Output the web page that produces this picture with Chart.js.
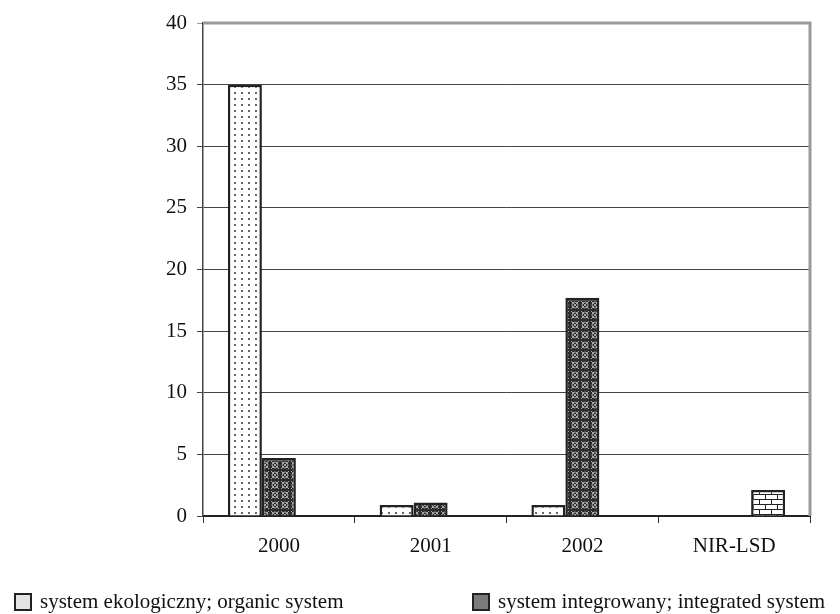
<!DOCTYPE html>
<html>
<head>
<meta charset="utf-8">
<script src="https://cdn.jsdelivr.net/npm/chart.js@4"></script>
<style>
  html, body { margin: 0; padding: 0; background: #fff; }
  #wrap { position: relative; width: 840px; height: 614px; }
  .legend { position: absolute; top: 589px; font: 21px "Liberation Serif", "Times New Roman", serif; color: #111; white-space: nowrap; }
  .legend span.box { display: inline-block; width: 14px; height: 14px; border: 2px solid #222; vertical-align: -3px; margin-right: 8px; }
</style>
</head>
<body>
<div id="wrap">
  <canvas id="chart" width="840" height="614"></canvas>
  <div class="legend" style="left:14px"><span class="box" style="background:#e4e4e4"></span>system ekologiczny; organic system</div>
  <div class="legend" style="left:472px"><span class="box" style="background:#7a7a7a"></span>system integrowany; integrated system</div>
</div>
<script>
const categories = ["2000", "2001", "2002", "NIR-LSD"];
const organic = [35, 0.9, 0.9, null];
const integrated = [4.7, 1.1, 17.7, null];
const lsd = [null, null, null, 2.1];
const seriesNames = ["system ekologiczny; organic system", "system integrowany; integrated system", "NIR-LSD"];

function makePattern(w, h, draw) {
  const c = document.createElement("canvas");
  c.width = w; c.height = h;
  const g = c.getContext("2d");
  draw(g);
  return document.getElementById("chart").getContext("2d").createPattern(c, "repeat");
}

const dotted = makePattern(7, 6, g => {
  g.fillStyle = "#fff"; g.fillRect(0, 0, 7, 6);
  g.fillStyle = "#666"; g.fillRect(3, 2, 2, 2);
});

const cross = makePattern(10, 10, g => {
  g.fillStyle = "#2b2b2b"; g.fillRect(0, 0, 10, 10);
  g.strokeStyle = "#a8a8a8"; g.lineWidth = 1;
  g.beginPath();
  g.moveTo(1, 1); g.lineTo(9, 9);
  g.moveTo(9, 1); g.lineTo(1, 9);
  g.stroke();
  g.beginPath(); g.arc(5, 5, 3, 0, Math.PI * 2); g.stroke();
});

const brick = makePattern(12, 10, g => {
  g.fillStyle = "#fff"; g.fillRect(0, 0, 12, 10);
  g.fillStyle = "#222";
  g.fillRect(0, 4, 12, 1); g.fillRect(0, 9, 12, 1);
  g.fillRect(3, 0, 1, 4); g.fillRect(9, 5, 1, 4);
});

const frame = {
  id: "frame",
  afterDraw(chart) {
    const { ctx, chartArea: a } = chart;
    ctx.save();
    ctx.strokeStyle = "#9a9a9a";
    ctx.lineWidth = 3;
    ctx.beginPath();
    ctx.moveTo(a.left, a.top);
    ctx.lineTo(a.right, a.top);
    ctx.lineTo(a.right, a.bottom);
    ctx.stroke();
    ctx.restore();
  }
};

new Chart(document.getElementById("chart"), {
  type: "bar",
  data: {
    labels: categories,
    datasets: [
      { label: seriesNames[0], data: organic, backgroundColor: dotted, borderColor: "#222", borderWidth: 2.5 },
      { label: seriesNames[1], data: integrated, backgroundColor: cross, borderColor: "#222", borderWidth: 2.5 },
      { label: seriesNames[2], data: lsd, backgroundColor: brick, borderColor: "#222", borderWidth: 2.5 }
    ]
  },
  options: {
    responsive: false,
    animation: false,
    layout: { padding: { left: 0, top: 23, right: 30, bottom: 0 } },
    datasets: { bar: { barPercentage: 1, categoryPercentage: 0.672 } },
    plugins: { legend: { display: false }, tooltip: { enabled: false } },
    scales: {
      x: {
        afterFit: s => { s.height = 98; },
        grid: { drawOnChartArea: false, tickLength: 7, color: "#333", lineWidth: 1 },
        border: { color: "#222", width: 2 },
        ticks: { color: "#111", padding: 11, font: { family: "'Liberation Serif', serif", size: 21 } }
      },
      y: {
        min: 0, max: 40,
        afterFit: s => { s.width = 203; },
        ticks: { stepSize: 5, color: "#111", padding: 10, font: { family: "'Liberation Serif', serif", size: 21 } },
        grid: { color: c => (c.tick && c.tick.value === 40 ? "#9a9a9a" : "#444"), lineWidth: 1, tickLength: 6 },
        border: { color: "#444", width: 1.5 }
      }
    }
  },
  plugins: [frame]
});
</script>
</body>
</html>
